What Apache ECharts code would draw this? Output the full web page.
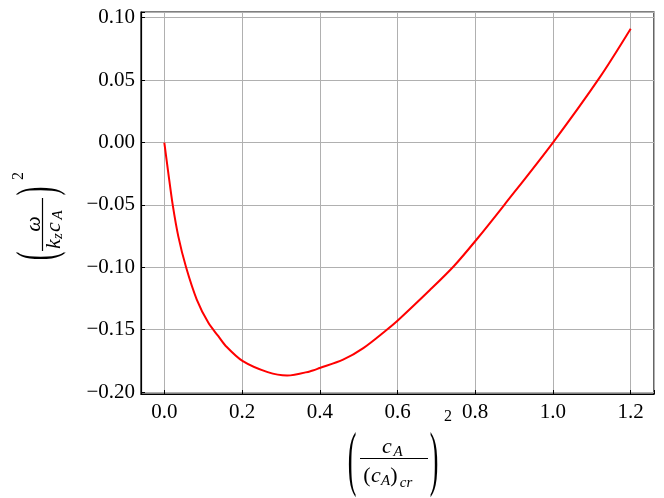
<!DOCTYPE html>
<html>
<head>
<meta charset="utf-8">
<script src="https://cdn.jsdelivr.net/npm/echarts@6/dist/echarts.min.js"></script>
<style>
html,body{margin:0;padding:0;background:#fff;}
#chart{width:664px;height:498px;}
</style>
</head>
<body>
<div id="chart"></div>
<script>
// values
const xVals = [0, 0.0103, 0.0216, 0.036, 0.056, 0.0835, 0.1134, 0.139, 0.158, 0.201, 0.266, 0.316, 0.374, 0.400, 0.460, 0.512, 0.5725, 0.600, 0.684, 0.746, 0.803, 0.875, 1.0, 1.12, 1.2];
const yVals = [0, -0.0245, -0.050, -0.0752, -0.100, -0.1258, -0.1445, -0.1552, -0.163, -0.175, -0.184, -0.1867, -0.1834, -0.1807, -0.174, -0.1647, -0.150, -0.1428, -0.118, -0.0987, -0.0779, -0.0499, 0.0, 0.052, 0.0912];
const xTicks = [0.0, 0.2, 0.4, 0.6, 0.8, 1.0, 1.2];
const yTicks = [-0.20, -0.15, -0.10, -0.05, 0.00, 0.05, 0.10];

const chart = echarts.init(document.getElementById('chart'), null, {renderer: 'canvas'});
const FONT = 'Liberation Serif';
const data = xVals.map((x, i) => [x, yVals[i]]);

function isTick(v, ticks) {
  return ticks.some(t => Math.abs(t - v) < 1e-6);
}

let gid = 0;
function txt(t, x, y, size, opts) {
  opts = opts || {};
  return {
    type: 'text',
    id: 'g' + (gid++),
    x: x, y: y,
    rotation: opts.rot || 0,
    scaleX: opts.sx || 1,
    scaleY: opts.sy || 1,
    silent: true,
    style: {
      text: t,
      fontFamily: FONT,
      fontSize: size,
      fontStyle: opts.italic ? 'italic' : 'normal',
      fill: '#000',
      textAlign: 'center', align: 'center',
      textVerticalAlign: 'middle', verticalAlign: 'middle'
    }
  };
}
const R = Math.PI / 2;

const graphics = [
  // x axis label: ( c_A / (c_A)_cr )^2
  txt('(', 352, 463, 26, {sy: 2.75}),
  txt(')', 434, 463, 26, {sy: 2.75}),
  txt('2', 448, 417, 16),
  txt('c', 387, 447.5, 22, {italic: true}),
  txt('A', 398, 452.5, 15, {italic: true}),
  {type: 'line', id: 'fx', silent: true, shape: {x1: 360, y1: 458.5, x2: 428, y2: 458.5}, style: {stroke: '#000', lineWidth: 1.2}},
  txt('(', 367, 476, 22),
  txt('c', 376, 476, 22, {italic: true}),
  txt('A', 385.5, 481, 15, {italic: true}),
  txt(')', 394, 476, 22),
  txt('cr', 406, 483, 15, {italic: true}),

  // y axis label (rotated): ( ω / k_z c_A )^2
  txt('(', 40, 256, 26, {rot: R, sy: 2.1}),
  txt(')', 40, 191, 26, {rot: R, sy: 2.1}),
  txt('2', 19, 176, 16, {rot: R}),
  txt('ω', 34, 224, 22, {rot: R, italic: true}),
  {type: 'line', id: 'fy', silent: true, shape: {x1: 42.5, y1: 198, x2: 42.5, y2: 251}, style: {stroke: '#000', lineWidth: 1.2}},
  txt('k', 54, 244, 22, {rot: R, italic: true}),
  txt('z', 58.5, 236, 15, {rot: R, italic: true}),
  txt('c', 54, 227, 22, {rot: R, italic: true}),
  txt('A', 58.5, 215, 15, {rot: R, italic: true})
];

const option = {
  backgroundColor: '#fff',
  animation: false,
  grid: {left: 141, right: 10, top: 12, bottom: 104, show: true, borderColor: '#000', borderWidth: 1.2, containLabel: false},
  xAxis: {
    type: 'value', min: -0.06, max: 1.26, splitNumber: 6,
    axisLine: {show: true, onZero: false, lineStyle: {color: '#000', width: 1.2}},
    axisTick: {show: true, inside: true, length: 4, lineStyle: {color: '#000', width: 1}},
    splitLine: {show: true, lineStyle: {color: '#b0b0b0', width: 1}},
    axisLabel: {
      show: true, margin: 8, color: '#000', fontFamily: FONT, fontSize: 21,
      formatter: v => isTick(v, xTicks) ? v.toFixed(1) : ''
    }
  },
  yAxis: {
    type: 'value', min: -0.2015, max: 0.1046, splitNumber: 6,
    axisLine: {show: true, onZero: false, lineStyle: {color: '#000', width: 1.2}},
    axisTick: {show: true, inside: true, length: 4, lineStyle: {color: '#000', width: 1}},
    splitLine: {show: true, lineStyle: {color: '#b0b0b0', width: 1}},
    axisLabel: {
      show: true, margin: 6, color: '#000', fontFamily: FONT, fontSize: 21,
      formatter: v => isTick(v, yTicks) ? v.toFixed(2).replace('-', '\u2212') : ''
    }
  },
  series: [{
    type: 'line',
    data: data,
    showSymbol: false,
    smooth: 0.3,
    lineStyle: {color: '#ff0000', width: 2},
    itemStyle: {color: '#ff0000'},
    clip: true
  }],
  graphic: {elements: graphics}
};
chart.setOption(option);
</script>
</body>
</html>
